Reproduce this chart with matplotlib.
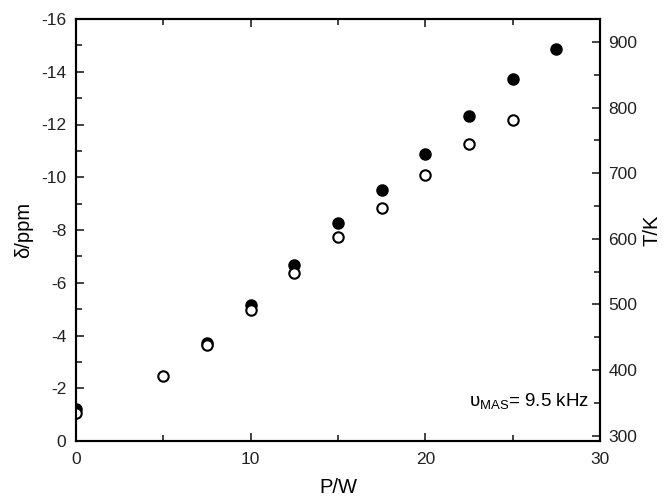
import matplotlib
matplotlib.use('Agg')
import matplotlib.pyplot as plt
from matplotlib.ticker import MultipleLocator

plt.rcParams['font.family'] = ['Liberation Sans', 'DejaVu Sans']
plt.rcParams['mathtext.default'] = 'regular'
plt.rcParams['axes.unicode_minus'] = False

# filled circles
p_filled = [0, 7.5, 10, 12.5, 15, 17.5, 20, 22.5, 25, 27.5]
d_filled = [-1.21, -3.7, -5.16, -6.67, -8.28, -9.51, -10.88, -12.31, -13.71, -14.86]

# open circles
p_open = [0, 5, 7.5, 10, 12.5, 15, 17.5, 20, 22.5, 25]
d_open = [-1.07, -2.48, -3.65, -4.95, -6.37, -7.73, -8.83, -10.08, -11.25, -12.18]

fig = plt.figure(figsize=(6.65, 5.0), dpi=100)
ax = fig.add_axes([0.1143, 0.118, 0.788, 0.844])

# filled behind, open on top
ax.plot(p_filled, d_filled, 'o', color='black', markersize=8, zorder=3)
ax.plot(p_open, d_open, 'o', markerfacecolor='white', markeredgecolor='black',
        markeredgewidth=1.5, markersize=7.5, zorder=4)

ax.set_xlim(0, 30)
ax.set_ylim(0, -16)
ax.xaxis.set_major_locator(MultipleLocator(10))
ax.xaxis.set_minor_locator(MultipleLocator(5))
ax.yaxis.set_major_locator(MultipleLocator(2))
ax.yaxis.set_minor_locator(MultipleLocator(1))
ax.tick_params(which='both', direction='in', top=True, right=False,
               width=1.2, labelsize=12.5, colors='#222222')
ax.tick_params(which='major', length=6)
ax.tick_params(which='minor', length=4)
ax.tick_params(axis='y', pad=7)
ax.tick_params(axis='x', pad=8)
for s in ax.spines.values():
    s.set_linewidth(1.5)
ax.set_xlabel('P/W', fontsize=14.5, labelpad=8)
ax.set_ylabel('δ/ppm', fontsize=14.5, labelpad=6)

# temperature axis on the right
ax2 = ax.twinx()
ax2.set_ylim(292, 935)
ax2.yaxis.set_major_locator(MultipleLocator(100))
ax2.yaxis.set_minor_locator(MultipleLocator(50))
ax2.tick_params(which='both', direction='in', width=1.2, labelsize=12.5,
                colors='#222222', pad=6)
ax2.tick_params(which='major', length=6)
ax2.tick_params(which='minor', length=4)
ax2.set_ylabel('T/K', fontsize=14.5, labelpad=4)
for s in ax2.spines.values():
    s.set_linewidth(1.5)

ax.text(0.98, 0.095, r'$υ_{MAS}$= 9.5 kHz', transform=ax.transAxes,
        ha='right', va='center', fontsize=13.5)

fig.savefig('out.png', dpi=100)
